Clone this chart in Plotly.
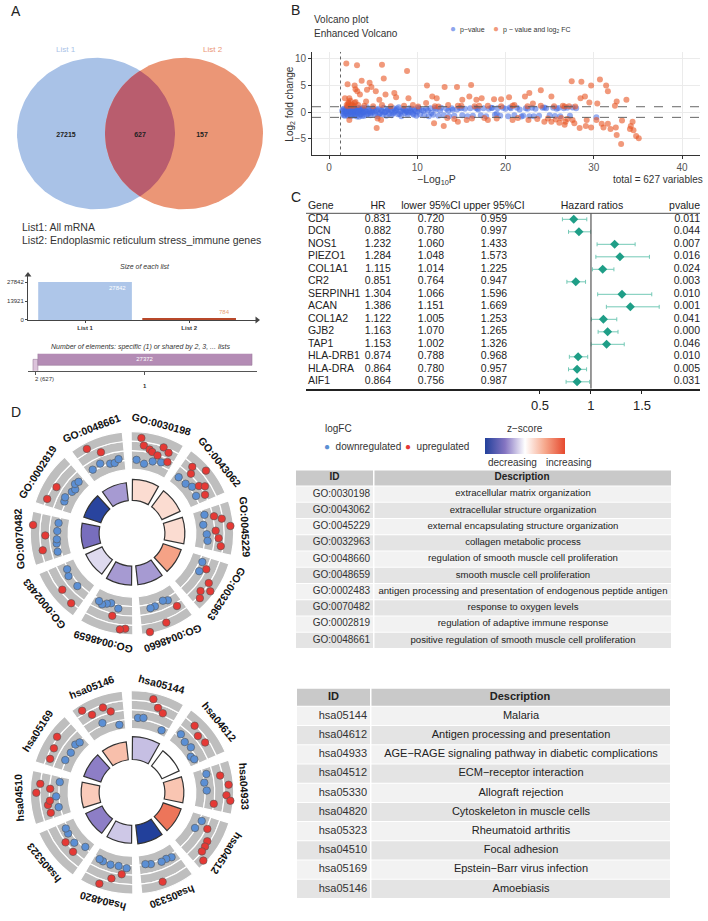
import plotly.graph_objects as go
import numpy as np

W, H = 708, 921
FONT = "Liberation Sans"


def px(x):
    return x / W


def py(y):
    return 1 - y / H


# ---------------- DATA ----------------
# Panel A
venn_names = ["List 1", "List 2"]
venn_counts = [27215, 627, 157]          # only list1, both, only list2
list_desc = ["List1: All mRNA", "List2: Endoplasmic reticulum stress_immune genes"]
list_sizes = [27842, 784]
list_ticks = [0, 13921, 27842]
shared_counts = [627, 27372]             # shared by 2, specific (1)
shared_labels = ["2 (627)", "1"]

# Panel B (volcano)
orange_x = [1.96, 3.17, 6.0, 8.84, 6.2, 2.1, 3.7, 2.9, 3.0, 3.2, 3.5, 4.6, 4.8, 4.3, 5.7, 5.3, 6.4, 7.4, 7.6, 9.0,
            1.8, 2.2, 2.9, 4.2, 11.1, 11.7, 12.2, 13.1, 14.5, 16.1, 15.1, 15.9, 16.7, 17.3, 18.7, 19.5, 20.4, 22.2,
            22.7, 24.0, 25.2, 27.5, 28.6, 29.7, 30.7, 31.4, 31.6, 28.5, 29.0, 29.5, 30.4, 32.6, 33.7, 32.4, 12.4,
            14.6, 20.8, 23.1, 26.7, 27.9, 10.1, 11.0,
            2.0, 2.2, 2.4, 2.6, 2.8, 3.0, 3.3, 2.3, 2.1, 2.5, 4.0, 5.0, 6.0, 7.0, 8.5, 12.0, 13.5, 15.0, 16.5,
            18.0, 19.5, 21.0, 22.5, 24.0, 25.5, 26.5, 27.2, 9.5, 17.0,
            5.4, 2.3, 5.9, 11.9, 13.0, 14.6, 15.6, 18.0, 20.8, 22.6, 24.4, 25.2, 26.1, 26.8, 26.7, 27.8, 28.4,
            29.1, 29.7, 30.9, 31.1, 31.6, 31.9, 32.5, 33.2, 33.1, 32.6, 34.2, 34.4, 34.5, 34.8, 35.1, 34.1, 27.6,
            29.2, 30.3, 5.5, 13.4, 14.2, 16.2, 17.6, 19.0, 21.4, 23.6, 24.8, 25.7, 26.3, 27.0]
orange_y = [9.1, 8.8, 8.9, 7.7, 6.3, 5.2, 5.9, 5.0, 4.3, 3.9, 3.3, 5.5, 4.7, 4.2, 2.3, 3.9, 3.3, 3.6, 2.8, 2.6,
            2.6, 1.8, 1.7, 2.0, 5.0, 2.9, 2.6, 4.7, 4.7, 5.1, 2.3, 2.9, 2.3, 2.6, 2.4, 2.4, 2.8, 2.9,
            3.6, 4.1, 2.9, 5.8, 5.7, 5.0, 6.1, 5.0, 3.9, 2.6, 2.9, 1.8, 1.6, 2.0, 2.3, 1.2, 1.05,
            1.2, 1.2, 1.6, 1.05, 1.05, 1.05, 1.7,
            1.3, 1.6, 2.1, 1.4, 1.2, 1.9, 1.3, 2.6, 1.1, 1.2, 1.2, 1.1, 1.3, 1.1, 1.2, 1.1, 1.3, 1.2, 1.1,
            1.2, 1.1, 1.3, 1.1, 1.2, 1.1, 1.2, 1.1, 1.3, 1.2,
            -3.0, -1.5, -1.5, -2.1, -2.6, -1.8, -1.5, -1.5, -1.5, -1.5, -1.8, -1.8, -2.0, -1.8, -2.4, -2.1, -3.0,
            -2.6, -2.9, -2.2, -2.9, -2.2, -3.2, -2.9, -1.6, -6.0, -4.3, -2.6, -1.8, -3.4, -4.5, -4.9, -3.2, -1.5,
            -1.5, -1.5, -1.2, -1.1, -1.3, -1.2, -1.1, -1.2, -1.1, -1.3, -1.2, -1.4, -1.1, -1.3]
blue_x = [1.5, 1.6, 1.7, 1.8, 1.9, 2.0, 2.1, 2.2, 2.3, 2.4, 2.5, 2.6, 2.7, 2.8, 2.9, 3.0, 3.1, 3.2, 3.3, 3.4,
          3.5, 3.6, 3.7, 3.8, 3.9, 4.0, 4.2, 4.3, 4.4, 4.5, 4.7, 4.8, 4.9, 5.0, 5.2, 5.3, 5.5, 5.6, 5.8, 5.9,
          6.1, 6.2, 6.4, 6.5, 6.7, 6.8, 7.0, 7.1, 7.3, 7.4, 7.6, 7.8, 7.9, 8.1, 8.2, 8.4, 8.6, 8.7, 8.9, 9.1,
          9.3, 9.5, 9.7, 9.9, 10.1, 10.3, 10.5, 10.8, 11.0, 11.3, 11.5, 11.8, 12.1, 12.4, 12.7, 13.0, 13.3,
          13.6, 13.9, 14.2, 14.5, 14.8, 15.1, 15.4, 15.7, 16.0, 16.3, 16.6, 16.9, 17.2, 17.5, 17.8, 18.1, 18.4,
          18.8, 19.1, 19.4, 19.7, 20.0, 20.3, 20.6, 21.0, 21.3, 21.6, 22.0, 22.3, 22.7, 23.0, 23.4, 23.8, 24.2,
          24.6, 25.0, 25.4, 25.8, 26.2, 26.6, 27.0, 27.3, 28.0, 30.3, 19.0,
          1.55, 1.65, 1.75, 1.85, 1.95, 2.05, 2.15, 2.25, 2.35, 2.45, 2.55, 2.65, 2.75, 2.85, 2.95, 3.05, 3.15,
          3.25, 3.35, 3.45, 3.55, 3.65, 3.75, 3.85, 3.95, 4.1, 4.25, 4.6, 4.65, 5.1, 5.4, 5.7, 6.0, 6.3, 6.6,
          6.9, 7.2, 7.5, 7.7, 8.0, 8.3, 8.5, 8.8, 9.0, 9.2, 9.4, 9.6, 9.8, 10.0, 10.2, 10.7, 11.2, 11.6, 12.0,
          12.6, 13.5, 14.0, 15.0, 16.8, 18.5, 20.5, 22.5, 24.4, 26.0, 27.6, 21.8, 23.2, 25.6]
blue_y = [0.2, -0.3, 0.6, -0.7, 0.1, 0.8, -0.5, 0.4, -0.1, 0.7, -0.8, 0.3, -0.4, 0.9, 0.0, -0.6, 0.5, -0.2, 0.8,
          -0.9, 0.2, -0.5, 0.6, -0.1, 0.4, -0.7, 0.1, 0.9, -0.3, 0.5, -0.6, 0.3, -0.1, 0.7, -0.4, 0.2, -0.8, 0.6,
          -0.2, 0.4, -0.5, 0.8, 0.0, -0.7, 0.5, -0.3, 0.3, -0.6, 0.7, -0.1, 0.4, -0.4, 0.9, 0.1, -0.8, 0.6, -0.2,
          0.3, -0.5, 0.7, 0.0, -0.3, 0.5, -0.7, 0.8, -0.4, 0.4, -0.6, 0.6, -0.8, 0.7, -0.5, 0.5, -0.7, 0.8, -0.6,
          0.6, -0.8, 0.7, -0.7, 0.5, 0.8, -0.6, 0.6, -0.8, 0.7, -0.7, 0.8, 0.5, -0.6, 0.7, -0.8, 0.6, 0.8, -0.5,
          0.7, -0.7, 0.8, 0.6, -0.8, 0.7, -0.6, 0.8, 0.5, -0.7, 0.7, -0.8, 0.8, 0.6, -0.7, 0.8, 0.7, -0.6, 0.8,
          0.6, -0.8, 0.7, 0.8, -0.7, 0.7, -1.0, -0.3,
          0.5, -0.6, 0.0, 0.35, -0.25, 0.15, -0.75, 0.65, 0.25, -0.45, 0.05, 0.55, -0.15, -0.65, 0.45, 0.15,
          -0.85, 0.25, 0.05, 0.55, -0.35, 0.35, -0.75, 0.75, -0.05, 0.3, -0.5, 0.15, -0.2, 0.1, 0.45, -0.35,
          0.15, -0.05, 0.25, 0.6, -0.25, 0.2, 0.65, -0.35, 0.15, 0.45, 0.05, -0.1, 0.35, 0.6, -0.5, 0.2, 0.05,
          0.55, 0.25, 0.3, -0.2, 0.75, 0.3, 0.25, 0.45, 0.7, 0.65, 0.75, 0.85, 0.6, 0.85, 0.75, 0.85, -0.85,
          -0.8, -0.75]

# Panel C (forest)
genes = ["CD4", "DCN", "NOS1", "PIEZO1", "COL1A1", "CR2", "SERPINH1", "ACAN", "COL1A2", "GJB2", "TAP1",
         "HLA-DRB1", "HLA-DRA", "AIF1"]
hr = [0.831, 0.882, 1.232, 1.284, 1.115, 0.851, 1.304, 1.386, 1.122, 1.163, 1.153, 0.874, 0.864, 0.864]
hr_low = [0.720, 0.780, 1.060, 1.048, 1.014, 0.764, 1.066, 1.151, 1.005, 1.070, 1.002, 0.788, 0.780, 0.756]
hr_up = [0.959, 0.997, 1.433, 1.573, 1.225, 0.947, 1.596, 1.669, 1.253, 1.265, 1.326, 0.968, 0.957, 0.987]
pvals = ["0.011", "0.044", "0.007", "0.016", "0.024", "0.003", "0.010", "0.001", "0.041", "0.000", "0.046",
         "0.010", "0.005", "0.031"]
hr_ticks = [0.5, 1, 1.5]

# Panel D (GO circle, clockwise from top)
go_ids = ["GO:0030198", "GO:0043062", "GO:0045229", "GO:0032963", "GO:0048660", "GO:0048659",
          "GO:0002483", "GO:0070482", "GO:0002819", "GO:0048661"]
go_desc = ["extracellular matrix organization", "extracellular structure organization",
           "external encapsulating structure organization", "collagen metabolic process",
           "regulation of smooth muscle cell proliferation", "smooth muscle cell proliferation",
           "antigen processing and presentation of endogenous peptide antigen", "response to oxygen levels",
           "regulation of adaptive immune response", "positive regulation of smooth muscle cell proliferation"]
go_z = [0.6, 0.6, 0.6, 1.6, -1.1, -1.1, -0.4, -1.7, -2.9, -1.1]
go_sig = [21, 20, 20, 19, 19, 19, 18, 18, 18, 18]
go_logfc = [
    [-0.7, 3.0, 1.8, -1.2, 1.3, 1.0, -0.5, 0.7, 2.3, -0.2, 1.8, 0.3],
    [-0.8, 2.0, 1.0, -0.8, 3.2, -0.3, 0.7, 1.5, -0.6, 0.8],
    [-0.5, 1.0, 2.2, -1.0, 3.5, 1.0, -0.5, 1.5, -0.3, 2.0],
    [-0.3, 0.8, -0.1, 2.3, 3.3, 2.0, 2.7],
    [1.3, -0.3, -0.6, 3.0, -0.2, -0.1, 3.8],
    [3.0, 3.2, -0.2, 1.2, -0.8, -0.5, -0.1, -0.4],
    [2.5, -0.3, 2.0, -0.2, -0.6],
    [-0.2, 2.2, -0.3, -0.4, 1.5, -0.5, 3.6, -0.6],
    [2.3, -0.5, -0.3, 1.8, -0.8, -1.0, -0.4, -0.6],
    [-0.5, 3.0, -0.2, 1.5, -0.8, -0.9, -0.4],
]

# Panel D (KEGG circle, clockwise from top)
kegg_ids = ["hsa05144", "hsa04612", "hsa04933", "hsa04512", "hsa05330", "hsa04820", "hsa05323", "hsa04510",
            "hsa05169", "hsa05146"]
kegg_desc = ["Malaria", "Antigen processing and presentation",
             "AGE\u2212RAGE signaling pathway in diabetic complications", "ECM\u2212receptor interaction",
             "Allograft rejection", "Cytoskeleton in muscle cells", "Rheumatoid arthritis", "Focal adhesion",
             "Epstein\u2212Barr virus infection", "Amoebiasis"]
kegg_z = [-0.7, 0.0, 1.0, 2.3, -3.0, -0.6, -1.4, 0.9, -1.4, 1.1]
kegg_sig = [23, 19, 19, 19, 19, 18, 18, 18, 18, 18]
kegg_logfc = [
    [-0.5, -0.4, 3.0, 1.8, 1.2, -1.5],
    [-0.3, 2.3, -0.8, 1.5, -0.6, 1.8, -1.5, -1.2],
    [-0.2, 2.0, -0.8, 3.2, -0.5, 2.8, 3.5, 0.8],
    [-0.4, 1.0, -0.9, 2.0, 2.2, 2.3, 3.5],
    [-0.3, -0.5, -0.4, 2.8, -0.6, -0.8],
    [-0.3, 0.8, -0.5, 1.8, -0.4, 3.2, -0.5, -0.6],
    [-1.0, 1.0, -0.2, 0.9, -0.3, -0.4],
    [1.0, -0.5, 1.2, 0.8, -0.3, 3.0, 0.7, 2.4, -0.8],
    [1.8, -0.6, 2.0, -0.8, 2.6, -0.6, -0.9],
    [3.0, 1.6, -0.4, 2.0, 1.0, -1.5],
]

# ---------------- STYLE ----------------
BLUE_V = "rgba(65,105,225,0.55)"
ORANGE_V = "rgba(232,85,35,0.6)"
TEAL = "#1f9e87"
UPC = "#e53935"
DOWNC = "#5b8fd4"
ZSCALE = [[0, "#22409b"], [0.25, "#8575c2"], [0.5, "#ffffff"], [0.75, "#f6a88c"], [1, "#e6492e"]]

fig = go.Figure()
ann = []
shapes = []


def text(x, y, s, size=10, color="#222", xanchor="center", bold=False, italic=False, angle=0, yanchor="middle"):
    if bold:
        s = "<b>" + s + "</b>"
    if italic:
        s = "<i>" + s + "</i>"
    ann.append(dict(x=px(x), y=py(y), xref="paper", yref="paper", text=s, showarrow=False,
                    font=dict(size=size, color=color, family=FONT), xanchor=xanchor, yanchor=yanchor,
                    textangle=angle))


# Panel letters
for L, (x, y) in zip("ABCD", [(9, 11), (289, 10), (289, 198), (9, 413)]):
    text(x, y, L, size=14, color="#222", xanchor="left")

# ---------------- Panel A: Venn ----------------
cL, cR, cy, rx, ry = 96, 184, 134, 79, 76
t = np.linspace(0, 2 * np.pi, 200)
fig.add_trace(go.Scatter(x=cL + rx * np.cos(t), y=cy + ry * np.sin(t), fill="toself", fillcolor="#a9c2e7",
                         line=dict(width=0), mode="lines", xaxis="x3", yaxis="y3", hoverinfo="skip",
                         showlegend=False))
fig.add_trace(go.Scatter(x=cR + rx * np.cos(t), y=cy + ry * np.sin(t), fill="toself", fillcolor="#eb9676",
                         line=dict(width=0), mode="lines", xaxis="x3", yaxis="y3", hoverinfo="skip",
                         showlegend=False))
t0 = np.arccos(((cR - cL) / 2) / rx)
ta = np.linspace(-t0, t0, 60)
tb = np.linspace(np.pi + t0, np.pi - t0, 60)
lx = np.concatenate([cL + rx * np.cos(ta), cR + rx * np.cos(tb)])
ly = np.concatenate([cy + ry * np.sin(ta), cy + ry * np.sin(tb)])
fig.add_trace(go.Scatter(x=lx, y=ly, fill="toself", fillcolor="#b95d6e", line=dict(width=0), mode="lines",
                         xaxis="x3", yaxis="y3", hoverinfo="skip", showlegend=False))
fig.add_trace(go.Scatter(x=[66, 140, 202], y=[136, 136, 136], mode="text",
                         text=["<b>%d</b>" % v for v in venn_counts],
                         textfont=dict(size=7, color="#222", family=FONT), xaxis="x3", yaxis="y3",
                         showlegend=False, hoverinfo="skip"))
text(66, 50, venn_names[0], size=8, color="#a9c2e7")
text(213, 50, venn_names[1], size=8, color="#eb9676")
text(20, 228, list_desc[0], size=10.5, color="#333", xanchor="left")
text(20, 241, list_desc[1], size=10.5, color="#333", xanchor="left")

# Size of each list
fig.add_trace(go.Bar(x=[0, 1], y=list_sizes, width=0.9, marker=dict(color=["#aec6e9", "#b8482a"], line=dict(width=0)),
                     xaxis="x4", yaxis="y4", showlegend=False, hoverinfo="skip"))
text(145, 267, "Size of each list", size=7, color="#333", italic=True)
text(128, 289, str(list_sizes[0]), size=6, color="white", xanchor="right")
text(232, 313, str(list_sizes[1]), size=6, color="#e8a07a", xanchor="right")
# axis arrow heads
fig.add_trace(go.Scatter(x=[1.652], y=[0], mode="markers", marker=dict(symbol="triangle-right", size=6, color="#444"),
                         xaxis="x4", yaxis="y4", showlegend=False, hoverinfo="skip", cliponaxis=False))
fig.add_trace(go.Scatter(x=[-0.548], y=[32970], mode="markers", marker=dict(symbol="triangle-up", size=6, color="#444"),
                         xaxis="x4", yaxis="y4", showlegend=False, hoverinfo="skip", cliponaxis=False))

# Shared elements bar
fig.add_trace(go.Bar(y=[0], x=[shared_counts[0]], base=[0], orientation="h", width=0.75,
                     marker=dict(color="#dcc3db", line=dict(color="#9b7c9b", width=0.6)),
                     xaxis="x5", yaxis="y5", showlegend=False, hoverinfo="skip"))
fig.add_trace(go.Bar(y=[0], x=[shared_counts[1]], base=[shared_counts[0]], orientation="h", width=0.75,
                     marker=dict(color="#b48cb5", line=dict(color="#9b7c9b", width=0.6)),
                     text=[str(shared_counts[1])], textposition="inside", insidetextanchor="middle",
                     textfont=dict(size=6, color="white", family=FONT),
                     xaxis="x5", yaxis="y5", showlegend=False, hoverinfo="skip"))
text(140, 348, "Number of elements: specific (1) or shared by 2, 3, ... lists", size=7, color="#333", italic=True)
text(33, 380, shared_labels[0], size=6, color="#333", xanchor="left")
text(145, 387, shared_labels[1], size=6, color="#333", bold=True)

# ---------------- Panel B: Volcano ----------------
fig.add_trace(go.Scatter(x=blue_x, y=blue_y, mode="markers", marker=dict(size=6, color=BLUE_V, line=dict(width=0)),
                         showlegend=False, hoverinfo="skip", xaxis="x", yaxis="y"))
fig.add_trace(go.Scatter(x=orange_x, y=orange_y, mode="markers",
                         marker=dict(size=6, color=ORANGE_V, line=dict(width=0)),
                         showlegend=False, hoverinfo="skip", xaxis="x", yaxis="y"))
for yv in [-1, 1]:
    shapes.append(dict(type="line", xref="x", yref="y", x0=-1.93, x1=42.04, y0=yv, y1=yv,
                       line=dict(color="#555", width=0.9, dash="dash")))
shapes.append(dict(type="line", xref="x", yref="y", x0=1.3, x1=1.3, y0=-8.16, y1=11.31,
                   line=dict(color="#555", width=0.9, dash="dot")))
text(312, 20, "Volcano plot", size=10, color="#333", xanchor="left")
text(312, 34, "Enhanced Volcano", size=10, color="#333", xanchor="left")
text(448, 29, '<span style="color:rgba(65,105,225,0.6);font-size:10px">\u25cf</span>  p\u2212value', size=7,
     color="#333", xanchor="left")
text(491, 29, '<span style="color:rgba(232,85,35,0.6);font-size:10px">\u25cf</span>  p \u2212 value and log<sub>2</sub> FC',
     size=7, color="#333", xanchor="left")
text(437, 181, "\u2212Log<sub>10</sub>P", size=10.5, color="#333")
text(705, 180, "total = 627 variables", size=10, color="#333", xanchor="right")
text(290, 104, "Log<sub>2</sub> fold change", size=10, color="#333", angle=-90)

# ---------------- Panel C: Forest ----------------
rows = list(range(1, len(genes) + 1))
fig.add_trace(go.Scatter(x=hr, y=rows, mode="markers",
                         marker=dict(symbol="diamond", size=7, color=TEAL),
                         error_x=dict(type="data", symmetric=False,
                                      array=[u - h for u, h in zip(hr_up, hr)],
                                      arrayminus=[h - l for h, l in zip(hr, hr_low)],
                                      color="#74c9b6", thickness=1, width=2),
                         xaxis="x2", yaxis="y2", showlegend=False, hoverinfo="skip"))
col_x = [-1.775, -1.088, -0.569, 0.049, 2.069]
col_pos = ["middle right", "middle center", "middle center", "middle center", "middle left"]
col_vals = [genes, ["%.3f" % v for v in hr], ["%.3f" % v for v in hr_low], ["%.3f" % v for v in hr_up], pvals]
headers = ["Gene", "HR", "lower 95%CI", "upper 95%CI", "pvalue"]
for cx_, pos, vals, hd in zip(col_x, col_pos, col_vals, headers):
    fig.add_trace(go.Scatter(x=[cx_] * (len(vals) + 1), y=[0] + rows, mode="text", text=[hd] + vals,
                             textposition=pos, textfont=dict(size=10.5, color="#222", family=FONT),
                             xaxis="x2", yaxis="y2", showlegend=False, hoverinfo="skip", cliponaxis=False))
fig.add_trace(go.Scatter(x=[1.01], y=[0], mode="text", text=["Hazard ratios"], textposition="middle center",
                         textfont=dict(size=10.5, color="#222", family=FONT), xaxis="x2", yaxis="y2",
                         showlegend=False, hoverinfo="skip", cliponaxis=False))
shapes.append(dict(type="line", xref="x2", yref="y2", x0=-1.794, x1=2.069, y0=0.52, y1=0.52,
                   line=dict(color="#222", width=0.8)))
shapes.append(dict(type="line", xref="x2", yref="y2", x0=1, x1=1, y0=0.52, y1=14.553,
                   line=dict(color="#555", width=1.2)))

# ---------------- Panel D: circles ----------------
R = 105


def circle(ids, z, sig, logfc, polar, cx, cy, showscale):
    n = len(ids)
    th = [15 + 36 * i for i in range(n)]
    for k in range(4):
        fig.add_trace(go.Barpolar(r=[9.5] * n, base=[64 + 9.5 * k] * n, theta=th, width=[31] * n,
                                  marker=dict(color="#bebebe", line=dict(color="white", width=1.2)),
                                  subplot=polar, showlegend=False, hoverinfo="skip"))
    fig.add_trace(go.Barpolar(r=sig, base=[33] * n, theta=th, width=[29] * n,
                              marker=dict(color=z, colorscale=ZSCALE, cmin=-3, cmax=3,
                                          line=dict(color="#333", width=1.2), showscale=showscale,
                                          colorbar=dict(orientation="h", x=px(525), xanchor="center",
                                                        y=py(447), yanchor="middle", len=80, lenmode="pixels",
                                                        thickness=16, thicknessmode="pixels",
                                                        showticklabels=False, ticks="", outlinewidth=0,
                                                        xpad=0, ypad=0)),
                              subplot=polar, showlegend=False, hoverinfo="skip"))
    rr, tt, cc = [], [], []
    for i, vals in enumerate(logfc):
        m = len(vals)
        for j, v in enumerate(vals):
            rr.append(78 + 6 * v)
            tt.append(th[i] - 12.5 + 25 * (j + 0.5) / m)
            cc.append(UPC if v > 0 else DOWNC)
    fig.add_trace(go.Scatterpolar(r=rr, theta=tt, mode="markers",
                                  marker=dict(size=7.5, color=cc, line=dict(color="#555", width=0.6)),
                                  subplot=polar, showlegend=False, hoverinfo="skip"))
    for i, lab in enumerate(ids):
        a = th[i]
        rl = 113
        xx = cx + rl * np.sin(np.radians(a))
        yy = cy - rl * np.cos(np.radians(a))
        ang = a if a <= 180 else a - 360
        text(xx, yy, lab, size=10.5, color="#111", bold=True, angle=ang)


circle(go_ids, go_z, go_sig, go_logfc, "polar", 132, 535, True)
circle(kegg_ids, kegg_z, kegg_sig, kegg_logfc, "polar2", 132, 795, False)

# legend for D
text(338, 430, "logFC", size=10, color="#333")
text(322, 448, '<span style="color:%s">\u25cf</span>  downregulated' % DOWNC, size=10, color="#333",
     xanchor="left")
text(403, 448, '<span style="color:%s">\u25cf</span>  upregulated' % UPC, size=10, color="#333", xanchor="left")
text(525, 430, "z\u2212score", size=10, color="#333")
text(512, 464, "decreasing", size=10, color="#333")
text(569, 464, "increasing", size=10, color="#333")


# ---------------- Tables (drawn with shapes + text) ----------------
def table(ids, desc, axx, axy, x0, xs, x1, top, hh, rh, size, dsize):
    n = len(ids)
    shapes.append(dict(type="rect", xref=axx, yref=axy, x0=x0, x1=xs, y0=top, y1=top + hh,
                       fillcolor="#c9c9c9", line=dict(width=0), layer="below"))
    shapes.append(dict(type="rect", xref=axx, yref=axy, x0=xs + 1.5, x1=x1, y0=top, y1=top + hh,
                       fillcolor="#c9c9c9", line=dict(width=0), layer="below"))
    ys = []
    for i in range(n):
        y0 = top + hh + 1 + rh * i
        col = "#f2f2f2" if i % 2 == 0 else "#e4e4e4"
        shapes.append(dict(type="rect", xref=axx, yref=axy, x0=x0, x1=xs, y0=y0, y1=y0 + rh - 1,
                           fillcolor=col, line=dict(width=0), layer="below"))
        shapes.append(dict(type="rect", xref=axx, yref=axy, x0=xs + 1.5, x1=x1, y0=y0, y1=y0 + rh - 1,
                           fillcolor=col, line=dict(width=0), layer="below"))
        ys.append(y0 + (rh - 1) / 2)
    fig.add_trace(go.Scatter(x=[(x0 + xs) / 2, (xs + x1) / 2], y=[top + hh / 2] * 2, mode="text",
                             text=["<b>ID</b>", "<b>Description</b>"], textposition="middle center",
                             textfont=dict(size=size, color="#222", family=FONT), xaxis=axx, yaxis=axy,
                             showlegend=False, hoverinfo="skip", cliponaxis=False))
    fig.add_trace(go.Scatter(x=[xs - 3] * n, y=ys, mode="text", text=ids, textposition="middle left",
                             textfont=dict(size=size, color="#333", family=FONT), xaxis=axx, yaxis=axy,
                             showlegend=False, hoverinfo="skip", cliponaxis=False))
    fig.add_trace(go.Scatter(x=[(xs + x1) / 2 + 1] * n, y=ys, mode="text", text=desc, textposition="middle center",
                             textfont=dict(size=dsize, color="#222", family=FONT), xaxis=axx, yaxis=axy,
                             showlegend=False, hoverinfo="skip", cliponaxis=False))


table(go_ids, go_desc, "x6", "y6", 296, 373, 671, 472, 15, 16.3, 10, 9.6)
table(kegg_ids, kegg_desc, "x7", "y7", 297, 370, 670, 691, 17, 19.3, 11, 11)

# ---------------- LAYOUT ----------------
polar_common = dict(radialaxis=dict(range=[0, R], visible=False),
                    angularaxis=dict(visible=False, rotation=90, direction="clockwise"),
                    bgcolor="rgba(0,0,0,0)", hole=0)

fig.update_layout(
    width=W, height=H, margin=dict(l=0, r=0, t=0, b=0), paper_bgcolor="white", plot_bgcolor="white",
    font=dict(family=FONT), showlegend=False,
    # volcano
    xaxis=dict(domain=[px(312), px(700)], range=[-1.93, 42.04], tickvals=[0, 10, 20, 30, 40],
               showgrid=True, gridcolor="#ebebeb", gridwidth=0.8, zeroline=False, showline=True,
               linecolor="#333", linewidth=1, ticks="outside", ticklen=3, tickcolor="#333",
               tickfont=dict(size=10, color="#555"), anchor="y"),
    yaxis=dict(domain=[py(156), py(52)], range=[-8.16, 11.31], tickvals=[-5, 0, 5, 10],
               showgrid=True, gridcolor="#ebebeb", gridwidth=0.8, zeroline=False, showline=True,
               linecolor="#333", linewidth=1, ticks="outside", ticklen=3, tickcolor="#333",
               tickfont=dict(size=10, color="#555"), anchor="x"),
    # forest
    xaxis2=dict(domain=[px(306), px(700)], range=[-1.794, 2.069], tickvals=hr_ticks,
                ticktext=[str(v) for v in hr_ticks], showgrid=False, zeroline=False, showline=True,
                linecolor="#222", linewidth=1.5, ticks="outside", ticklen=4, tickcolor="#222",
                tickfont=dict(size=13, color="#222"), anchor="y2"),
    yaxis2=dict(domain=[py(390), py(196)], range=[14.553, -0.917], visible=False, anchor="x2"),
    # venn
    xaxis3=dict(domain=[0, px(290)], range=[0, 290], visible=False, anchor="y3"),
    yaxis3=dict(domain=[py(260), py(40)], range=[260, 40], visible=False, anchor="x3"),
    # list sizes
    xaxis4=dict(domain=[px(28), px(257)], range=[-0.548, 1.652], tickvals=[0, 1],
                ticktext=["<b>" + v + "</b>" for v in venn_names], showgrid=False, zeroline=False,
                showline=True, linecolor="#444", linewidth=1, ticks="outside", ticklen=2, tickcolor="#444",
                tickfont=dict(size=6, color="#333"), anchor="y4"),
    yaxis4=dict(domain=[py(321), py(276)], range=[0, 32970], tickvals=list_ticks,
                ticktext=[str(v) for v in list_ticks], showgrid=False, zeroline=False, showline=True,
                linecolor="#444", linewidth=1, ticks="outside", ticklen=2, tickcolor="#444",
                tickfont=dict(size=6, color="#333"), anchor="x4"),
    # shared bar
    xaxis5=dict(domain=[px(28), px(257)], range=[-639, 28638],
                tickvals=[shared_counts[0] / 2, shared_counts[0] + shared_counts[1] / 2],
                showticklabels=False, showgrid=False, zeroline=False, showline=True, linecolor="#555",
                linewidth=1, ticks="outside", ticklen=3, tickcolor="#555", anchor="y5"),
    yaxis5=dict(domain=[py(372), py(355)], range=[-0.5, 0.5], visible=False, anchor="x5"),
    # tables (pixel-unit helper axes)
    xaxis6=dict(domain=[px(290), px(680)], range=[290, 680], visible=False, anchor="y6"),
    yaxis6=dict(domain=[py(660), py(466)], range=[660, 466], visible=False, anchor="x6"),
    xaxis7=dict(domain=[px(290), px(680)], range=[290, 680], visible=False, anchor="y7"),
    yaxis7=dict(domain=[py(910), py(685)], range=[910, 685], visible=False, anchor="x7"),
    polar=dict(domain=dict(x=[px(132 - R), px(132 + R)], y=[py(535 + R), py(535 - R)]), **polar_common),
    polar2=dict(domain=dict(x=[px(132 - R), px(132 + R)], y=[py(795 + R), py(795 - R)]), **polar_common),
    annotations=ann, shapes=shapes,
)

fig.write_html("out.html", config={"displayModeBar": False},
               post_script="document.body.style.margin='0';document.body.style.overflow='hidden';")
